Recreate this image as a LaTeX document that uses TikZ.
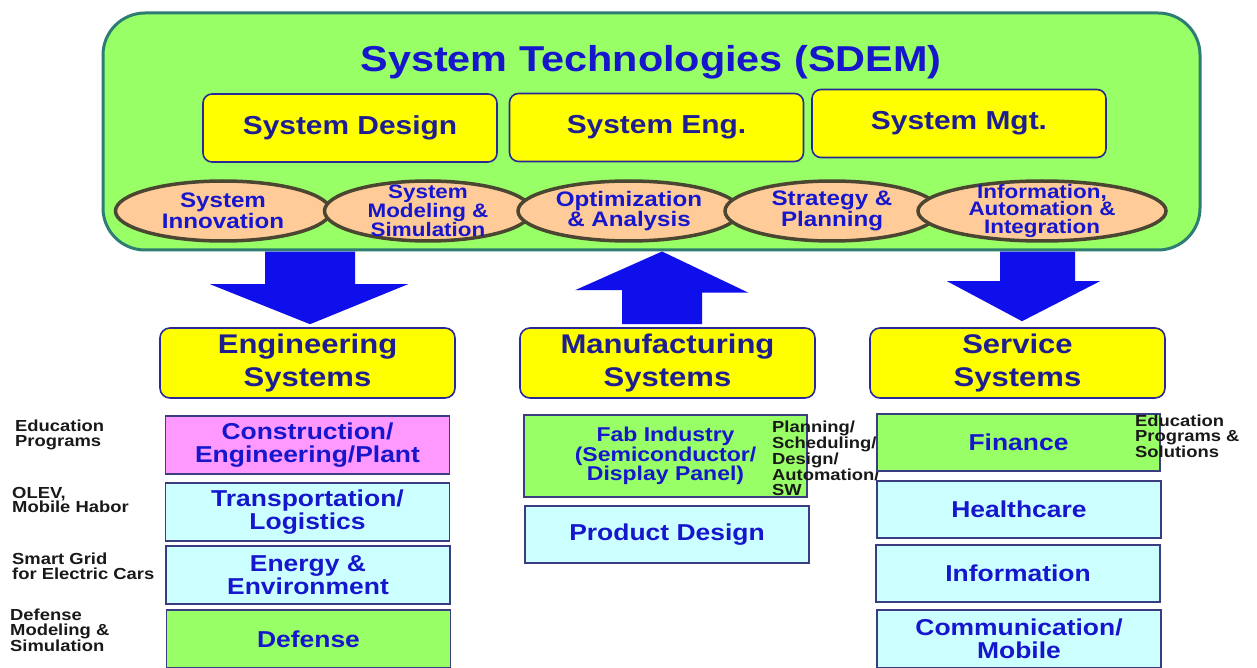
\documentclass[tikz,border=0pt]{standalone}
\usepackage{fontspec}
\setmainfont{Liberation Sans}[FakeStretch=1.15]
\usetikzlibrary{shapes.geometric,calc}

\definecolor{techgreen}{RGB}{153,255,102}
\definecolor{techrim}{RGB}{45,125,115}
\definecolor{boxyellow}{RGB}{255,255,0}
\definecolor{rimblue}{RGB}{40,40,150}
\definecolor{inkblue}{RGB}{22,22,205}
\definecolor{inknavy}{RGB}{30,30,145}
\definecolor{peach}{RGB}{255,204,153}
\definecolor{ovalrim}{RGB}{75,70,50}
\definecolor{arrowblue}{RGB}{15,15,235}
\definecolor{areapink}{RGB}{255,153,255}
\definecolor{areacyan}{RGB}{204,255,255}
\definecolor{areagreen}{RGB}{153,255,102}
\definecolor{arearim}{RGB}{60,60,130}

\begin{document}
\begin{tikzpicture}[x=1pt, y=1pt,
    techbox/.style={rectangle, draw=techrim, line width=3pt, fill=techgreen, rounded corners=42pt, minimum width=1097pt, minimum height=237pt, inner sep=0pt},
    headline/.style={inner sep=0pt, font=\fontsize{36}{40}\selectfont\bfseries, text=inkblue},
    discipline/.style={rectangle, draw=rimblue, line width=1.6pt, fill=boxyellow, rounded corners=9pt, minimum width=294pt, minimum height=68pt, inner sep=0pt, font=\fontsize{26}{30}\selectfont\bfseries, text=inknavy},
    method/.style={ellipse, draw=ovalrim, line width=3.5pt, fill=peach, minimum width=215pt, minimum height=60pt, inner sep=0pt},
    methodtext/.style={align=center, inner sep=0pt, font=\fontsize{21}{19}\selectfont\bfseries, text=inkblue},
    sysbox/.style={rectangle, draw=rimblue, line width=1.6pt, fill=boxyellow, rounded corners=10pt, minimum width=295pt, minimum height=70pt, inner sep=0pt, align=center, font=\fontsize{27}{33}\selectfont\bfseries, text=inknavy},
    area/.style={rectangle, draw=arearim, line width=1.2pt, fill=areacyan, minimum width=284pt, minimum height=58pt, inner sep=0pt, align=center, font=\fontsize{23}{23}\selectfont\bfseries, text=inkblue},
    note/.style={anchor=north west, align=left, inner sep=0pt, font=\fontsize{16}{14.5}\selectfont\bfseries, text=black!90},
    bigarrow/.style={fill=arrowblue}
]
\useasboundingbox[fill=white] (0,0) rectangle (1257,-668);

% System Technologies
\node[techbox] (tech) at (651.5,-131.5) {};
\node[headline] (title) at (651,-62) {System Technologies (SDEM)};

\node[discipline] (design) at (350,-128) {System Design};
\node[discipline] (syseng) at (656.5,-127.5) {System Eng.};
\node[discipline] (sysmgt) at (959,-123.5) {System Mgt.};

% Methods
\node[method, label={[methodtext]center:{System\\Innovation}}] (innov) at (223,-211) {};
\node[method, minimum width=207pt, label={[methodtext, font=\fontsize{19.5}{17.5}\selectfont\bfseries]center:{System\\Modeling \&\\Simulation}}] (model) at (428,-211) {};
\node[method, minimum width=222pt, label={[methodtext]center:{Optimization\\\& Analysis}}] (optim) at (629,-211) {};
\node[method, minimum width=214pt, label={[methodtext]center:{Strategy \&\\Planning}}] (strat) at (832,-211) {};
\node[method, minimum width=248pt, label={[methodtext, font=\fontsize{19.5}{17.5}\selectfont\bfseries]center:{Information,\\Automation \&\\Integration}}] (integ) at (1042,-211) {};

% Systems
\node[sysbox] (eng) at (307.5,-363) {Engineering\\Systems};
\node[sysbox] (manuf) at (667.5,-363) {Manufacturing\\Systems};
\node[sysbox] (serv) at (1017.5,-363) {Service\\Systems};

% Connections
\fill[bigarrow] ($(eng.north)+(2.5,3)$) -- ++(-100,40) -- ++(55,0)
    -- ($(eng.north |- tech.south)+(-42.5,0)$) -- ++(90,0)
    -- ($(eng.north)+(47.5,43)$) -- ++(53,0) -- cycle;
\fill[bigarrow] ($(manuf.north |- tech.south)+(-5.5,0)$) -- ++(86,-41) -- ++(-46,0)
    -- ($(manuf.north)+(34.5,3)$) -- ++(-80,0) -- ++(0,34) -- ++(-47,0) -- cycle;
\fill[bigarrow] ($(serv.north)+(4.5,6)$) -- ++(-75,40) -- ++(53,0)
    -- ($(serv.north |- tech.south)+(-17.5,0)$) -- ++(75,0)
    -- ($(serv.north)+(57.5,46)$) -- ++(25,0) -- cycle;

% Engineering areas
\node[area, fill=areapink] (constr) at (307.5,-445) {Construction/\\Engineering/Plant};
\node[area] (transp) at (307.5,-512) {Transportation/\\Logistics};
\node[area] (energy) at (308,-575) {Energy \&\\Environment};
\node[area, fill=areagreen] (defense) at (308.5,-639) {Defense};

\node[note] (edu) at (15,-420) {Education\\Programs};
\node[note] (olev) at (12,-487) {OLEV,\\Mobile Habor};
\node[note] (grid) at (12,-553) {Smart Grid\\for Electric Cars};
\node[note] (dms) at (10,-609) {Defense\\Modeling \&\\Simulation};

% Manufacturing areas
\node[area, fill=areagreen, minimum width=283pt, minimum height=82pt, font=\fontsize{20}{18}\selectfont\bfseries] (fab) at (665.5,-456) {Fab Industry\\(Semiconductor/\\Display Panel)};
\node[area, minimum height=57pt] (product) at (667,-534.5) {Product Design};

\node[note] (plan) at (772,-421) {Planning/\\Scheduling/\\Design/\\Automation/\\SW};

% Service areas
\node[area, fill=areagreen, minimum width=283pt, minimum height=57pt] (finance) at (1018.5,-442.5) {Finance};
\node[area, minimum height=57pt] (health) at (1019,-509.5) {Healthcare};
\node[area, minimum height=57pt] (inform) at (1018,-573.5) {Information};
\node[area] (comm) at (1019,-639) {Communication/\\Mobile};

\node[note] (solution) at (1135,-415) {Education\\Programs \&\\Solutions};

\end{tikzpicture}
\end{document}
